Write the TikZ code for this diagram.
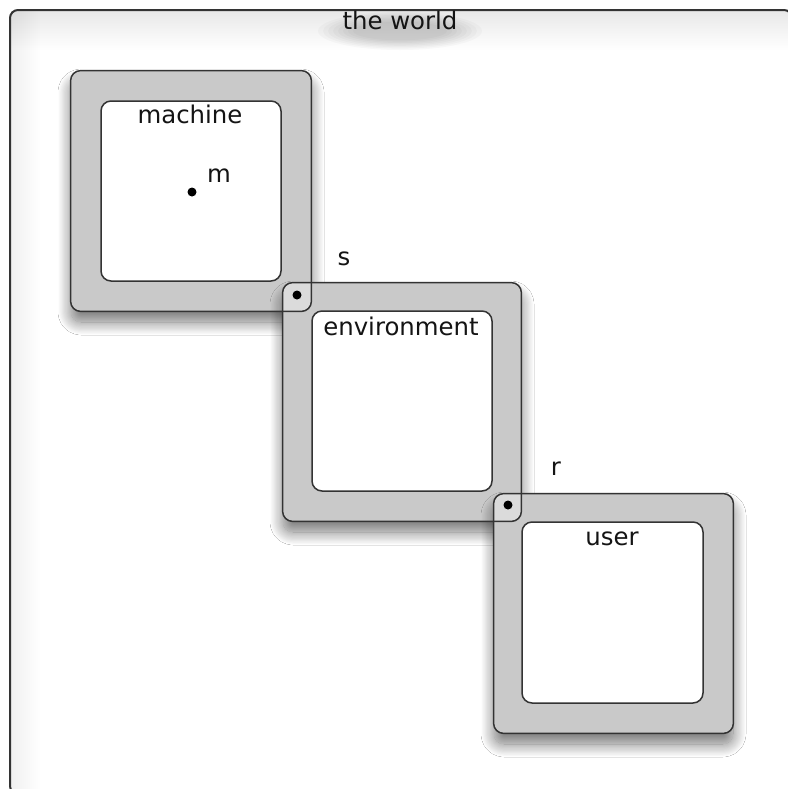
\documentclass[tikz,border=0pt]{standalone}
\usepackage{fontspec}
\setmainfont{DejaVu Sans}
\usetikzlibrary{shadows.blur,fadings}
\tikzfading[name=myfadedown, top color=transparent!0, bottom color=transparent!100]
\tikzfading[name=myfaderight, left color=transparent!0, right color=transparent!100]
\begin{document}
\begin{tikzpicture}[x=0.5pt,y=-0.5pt,
  lbl/.style={font=\fontsize{12.2}{14}\selectfont, text=black!92, inner sep=0pt, anchor=base},
  outerbox/.style={minimum width=120pt, minimum height=120pt, inner sep=0pt, rounded corners=5pt, fill=black!21,
    blur shadow={shadow xshift=0pt, shadow yshift=-5.5pt, shadow blur radius=6.5pt, shadow blur steps=24, shadow opacity=55}},
  innerbox/.style={minimum width=90pt, minimum height=90pt, inner sep=0pt, rounded corners=5pt, fill=white, draw=black!80, line width=0.75pt},
  edgeline/.style={draw=black!80, line width=0.75pt, rounded corners=5pt},
  dotmark/.style={circle, fill=black, inner sep=0pt, minimum size=4.5pt}]
\useasboundingbox (0,0) rectangle (788,789);
% the world
\fill[white] (0,0) rectangle (788,789);
\fill[black, opacity=0.09, path fading=myfadedown] (11,11) rectangle (790,50);
\fill[black, opacity=0.06, path fading=myfaderight] (11,11) rectangle (40,792);
\foreach \k in {0,...,7}
  \fill[black, opacity=0.025] (400,31) ellipse [x radius={82-5*\k}, y radius={19-1.4*\k}];
\draw[draw=black!80, line width=1pt, rounded corners=4pt] (10,10) rectangle (792,794);
% outer boxes
\node[outerbox] (machO) at (191,191) {};
\node[outerbox, minimum width=119pt, minimum height=119pt] (envO) at (402,402) {};
\node[outerbox, minimum width=119.5pt, minimum height=119.5pt] (userO) at (613.5,613.5) {};
% overlaps
\begin{scope}
  \clip[rounded corners=5pt] (machO.south west) rectangle (machO.north east);
  \fill[black!14, rounded corners=5pt] (envO.south west) rectangle (envO.north east);
\end{scope}
\begin{scope}
  \clip[rounded corners=5pt] (envO.south west) rectangle (envO.north east);
  \fill[black!14, rounded corners=5pt] (userO.south west) rectangle (userO.north east);
\end{scope}
% outlines
\draw[edgeline] (machO.south west) rectangle (machO.north east);
\draw[edgeline] (envO.south west) rectangle (envO.north east);
\draw[edgeline] (userO.south west) rectangle (userO.north east);
% inner boxes
\node[innerbox] (machI) at (191,191) {};
\node[innerbox] (envI) at (402,401) {};
\node[innerbox, minimum width=90.5pt, minimum height=90.5pt] (userI) at (612.5,612.5) {};
% dots
\node[dotmark] (mdot) at (192,192) {};
\node[dotmark] (sdot) at (297,295) {};
\node[dotmark] (rdot) at (508,505) {};
% labels
\node[lbl] (worldL) at (400,29) {the world};
\node[lbl] (machL) at (190,123) {machine};
\node[lbl] (mL) at (219,182) {m};
\node[lbl] (sL) at (344,265) {s};
\node[lbl] (envL) at (401,335) {environment};
\node[lbl] (rL) at (556,475) {r};
\node[lbl] (userL) at (612,545) {user};
\end{tikzpicture}
\end{document}
